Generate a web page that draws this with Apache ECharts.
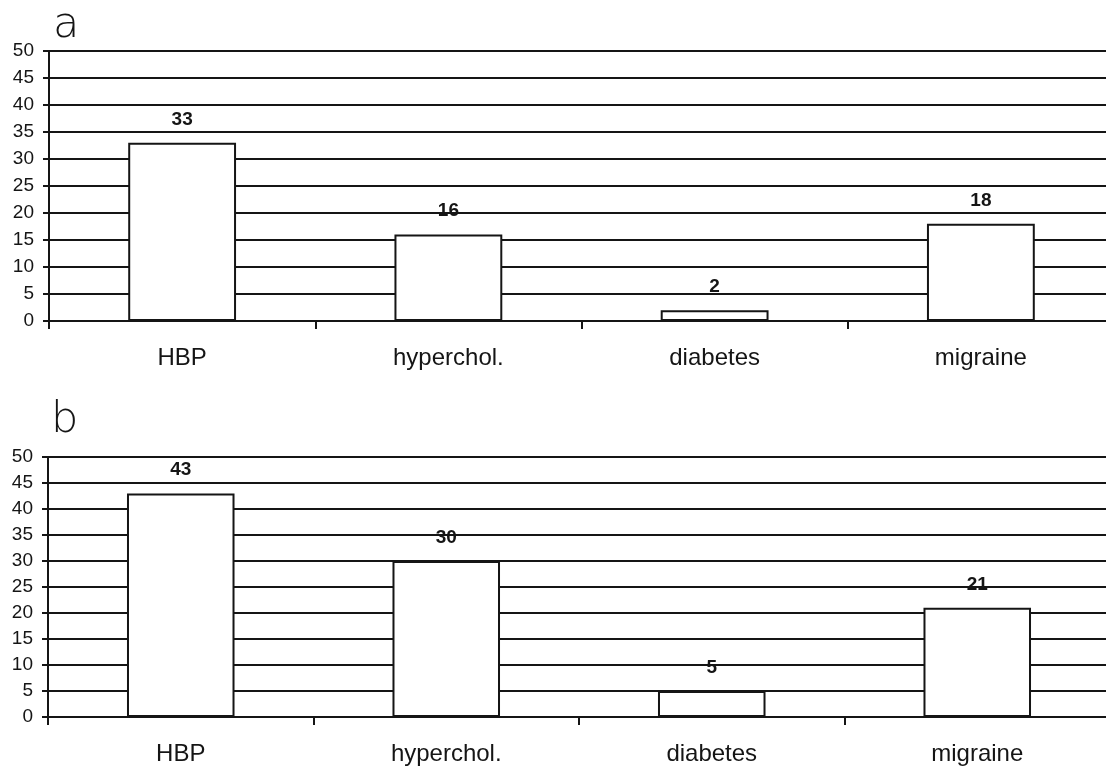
<!DOCTYPE html>
<html>
<head>
<meta charset="utf-8">
<script src="https://cdn.jsdelivr.net/npm/echarts@6/dist/echarts.min.js"></script>
<style>
  html, body { margin: 0; padding: 0; background: #ffffff; overflow: hidden; }
  #chart { width: 1120px; height: 769px; }
</style>
</head>
<body>
<div id="chart"></div>
<script>
// Conditions shown on both panels
const categories = ['HBP', 'hyperchol.', 'diabetes', 'migraine'];
// Panel a counts
const valuesA = [33, 16, 2, 18];
// Panel b counts
const valuesB = [43, 30, 5, 21];
// Value axis range
const yMin = 0;
const yMax = 50;
const yStep = 5;

const ink = '#151515';
const font = '"Liberation Sans", Arial, sans-serif';

function catAxis(gridIndex) {
  return {
    type: 'category',
    gridIndex: gridIndex,
    data: categories,
    boundaryGap: true,
    axisLine: { show: true, lineStyle: { color: ink, width: 2 } },
    axisTick: { show: true, length: 8, lineStyle: { color: ink, width: 2 } },
    axisLabel: { color: ink, fontFamily: font, fontSize: 24, margin: 25 },
    splitLine: { show: false }
  };
}

function valAxis(gridIndex) {
  return {
    type: 'value',
    gridIndex: gridIndex,
    min: yMin,
    max: yMax,
    interval: yStep,
    axisLine: { show: true, lineStyle: { color: ink, width: 2 } },
    axisTick: { show: true, length: 6, lineStyle: { color: ink, width: 2 } },
    axisLabel: { color: ink, fontFamily: font, fontSize: 19, margin: 15 },
    splitLine: { show: true, lineStyle: { color: ink, width: 2 } }
  };
}

function barSeries(index, values) {
  return {
    type: 'bar',
    xAxisIndex: index,
    yAxisIndex: index,
    data: values,
    barWidth: '40.5%',
    itemStyle: { color: '#ffffff', borderColor: ink, borderWidth: 2 },
    label: {
      show: true,
      position: 'top',
      distance: 14,
      color: ink,
      fontFamily: font,
      fontSize: 19,
      fontWeight: 'bold'
    },
    z: 3
  };
}

const chart = echarts.init(document.getElementById('chart'), null, { renderer: 'canvas' });
chart.setOption({
  backgroundColor: '#ffffff',
  animation: false,
  title: [
    { text: 'a', left: 48, top: -1,
      textStyle: { fontFamily: '"DejaVu Sans", sans-serif', fontWeight: 200, fontSize: 43, color: ink } },
    { text: 'b', left: 46, top: 394,
      textStyle: { fontFamily: '"DejaVu Sans", sans-serif', fontWeight: 200, fontSize: 43, color: ink } }
  ],
  grid: [
    { left: 49, top: 51, width: 1065, height: 270 },
    { left: 48, top: 457, width: 1062, height: 260 }
  ],
  xAxis: [catAxis(0), catAxis(1)],
  yAxis: [valAxis(0), valAxis(1)],
  series: [barSeries(0, valuesA), barSeries(1, valuesB)]
});
</script>
</body>
</html>
